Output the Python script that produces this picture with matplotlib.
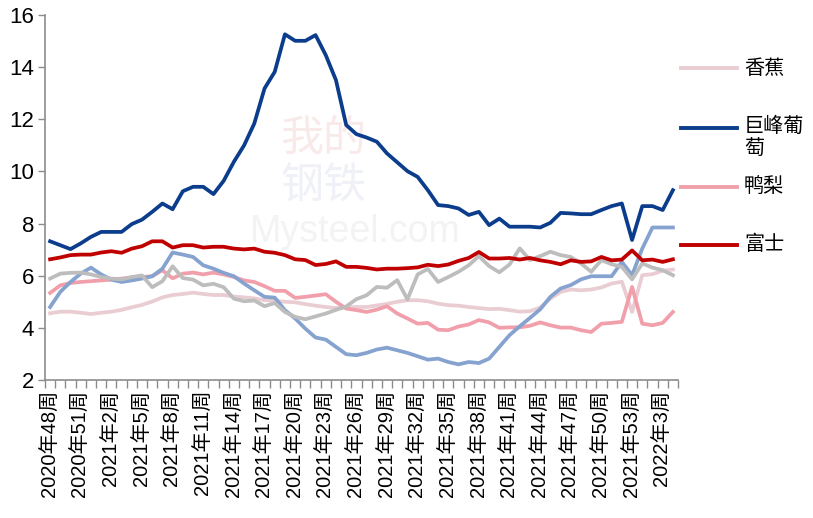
import matplotlib
matplotlib.use("Agg")
import matplotlib.pyplot as plt
from matplotlib.lines import Line2D
import numpy as np

# ---- categories (weeks) ----
weeks = ([f"2020年{w}周" for w in range(48, 53)] +
         [f"2021年{w}周" for w in range(1, 54)] +
         [f"2022年{w}周" for w in range(1, 5)])

banana = [4.56, 4.62, 4.62, 4.58, 4.53, 4.58, 4.62, 4.69, 4.79, 4.88, 5.01, 5.17, 5.26, 5.30, 5.35, 5.30,
          5.26, 5.26, 5.20, 5.17, 5.13, 5.06, 5.04, 5.00, 4.98, 4.91, 4.85, 4.80, 4.76, 4.78, 4.80, 4.80,
          4.86, 4.92, 5.00, 5.06, 5.06, 5.02, 4.93, 4.87, 4.85, 4.80, 4.76, 4.72, 4.73, 4.68, 4.62, 4.64,
          4.78, 5.12, 5.38, 5.47, 5.44, 5.47, 5.55, 5.70, 5.77, 4.61, 6.02, 6.06, 6.19, 6.24]
grape = [7.32, 7.17, 7.02, 7.24, 7.49, 7.68, 7.68, 7.68, 7.98, 8.15, 8.45, 8.77, 8.55, 9.24, 9.41, 9.41,
         9.13, 9.64, 10.37, 11.00, 11.84, 13.18, 13.82, 15.26, 15.01, 15.01, 15.23, 14.46, 13.50, 11.78,
         11.43, 11.30, 11.14, 10.69, 10.35, 10.01, 9.79, 9.28, 8.71, 8.67, 8.58, 8.33, 8.45, 7.94, 8.19,
         7.88, 7.88, 7.88, 7.85, 8.03, 8.41, 8.39, 8.36, 8.36, 8.52, 8.67, 8.77, 7.37, 8.67, 8.67, 8.52, 9.28]
pear = [5.34, 5.63, 5.72, 5.76, 5.79, 5.82, 5.85, 5.89, 5.93, 5.95, 5.98, 6.21, 5.90, 6.08, 6.12, 6.05,
        6.12, 6.05, 5.95, 5.82, 5.76, 5.60, 5.42, 5.42, 5.15, 5.19, 5.24, 5.29, 5.00, 4.74, 4.68, 4.61,
        4.70, 4.83, 4.55, 4.36, 4.16, 4.19, 3.93, 3.91, 4.05, 4.13, 4.30, 4.21, 4.00, 4.02, 4.02, 4.08,
        4.21, 4.10, 4.01, 4.01, 3.91, 3.84, 4.16, 4.19, 4.23, 5.57, 4.16, 4.10, 4.19, 4.61]
fuji = [6.63, 6.70, 6.79, 6.81, 6.81, 6.89, 6.94, 6.88, 7.04, 7.13, 7.32, 7.32, 7.08, 7.17, 7.17, 7.08,
        7.11, 7.11, 7.04, 7.01, 7.04, 6.92, 6.88, 6.79, 6.63, 6.60, 6.41, 6.45, 6.55, 6.34, 6.34, 6.30,
        6.24, 6.27, 6.27, 6.29, 6.32, 6.42, 6.37, 6.43, 6.57, 6.68, 6.91, 6.66, 6.66, 6.68, 6.62, 6.68,
        6.59, 6.53, 6.44, 6.59, 6.53, 6.55, 6.72, 6.59, 6.62, 6.97, 6.59, 6.62, 6.53, 6.63]
lightblue = [4.80, 5.38, 5.76, 6.08, 6.31, 6.05, 5.85, 5.76, 5.82, 5.89, 5.98, 6.27, 6.89, 6.81, 6.72, 6.40,
             6.27, 6.11, 5.98, 5.70, 5.44, 5.19, 5.16, 4.68, 4.36, 3.97, 3.63, 3.55, 3.27, 2.99, 2.95, 3.04,
             3.17, 3.24, 3.14, 3.04, 2.91, 2.78, 2.82, 2.69, 2.60, 2.69, 2.65, 2.82, 3.27, 3.72, 4.06, 4.38,
             4.71, 5.19, 5.51, 5.64, 5.86, 5.98, 5.98, 5.98, 6.53, 6.02, 7.04, 7.85, 7.85, 7.85]
gray = [5.89, 6.08, 6.11, 6.12, 6.05, 5.95, 5.89, 5.86, 5.95, 6.01, 5.56, 5.79, 6.36, 5.91, 5.85, 5.63,
        5.69, 5.56, 5.12, 5.02, 5.05, 4.83, 4.95, 4.61, 4.42, 4.33, 4.44, 4.55, 4.69, 4.82, 5.10, 5.25,
        5.57, 5.54, 5.83, 5.09, 6.05, 6.26, 5.76, 5.95, 6.15, 6.40, 6.75, 6.37, 6.13, 6.43, 7.05, 6.60,
        6.75, 6.92, 6.79, 6.72, 6.47, 6.15, 6.60, 6.44, 6.34, 5.86, 6.47, 6.31, 6.21, 6.02]

legend_names = ["香蕉", "巨峰葡\n萄", "鸭梨", "富士"]
yticks = [2, 4, 6, 8, 10, 12, 14, 16]

W, H = 813, 518
fig = plt.figure(figsize=(W / 100, H / 100), dpi=100)
ax = fig.add_axes([45 / W, 1 - 380 / H, (678 - 45) / W, (380 - 15) / H])

x = np.arange(len(weeks))
lw = 2.7
ax.plot(x, banana, color="#e9cdd3", lw=lw, zorder=2)
ax.plot(x, pear, color="#f1a0ab", lw=lw, zorder=3)
ax.plot(x, lightblue, color="#86a3d0", lw=lw, zorder=4)
ax.plot(x, gray, color="#bdbdbd", lw=lw, zorder=5)
ax.plot(x, fuji, color="#c00000", lw=lw, zorder=6)
ax.plot(x, grape, color="#0b3d8c", lw=lw, zorder=7)

# watermark
ax.text(0.44, 0.66, "我的", transform=ax.transAxes, fontsize=31, color="#f9eaea",
        family=["Noto Sans CJK SC"], ha="center", va="center", zorder=0)
ax.text(0.44, 0.53, "钢铁", transform=ax.transAxes, fontsize=31, color="#eff1f7",
        family=["Noto Sans CJK SC"], ha="center", va="center", zorder=0)
ax.text(0.49, 0.405, "Mysteel.com", transform=ax.transAxes, fontsize=27, color="#f3f3f3",
        family=["Liberation Sans"], ha="center", va="center", zorder=0)

ax.set_xlim(-0.5, len(weeks) - 0.5)
ax.set_ylim(2, 16)
ax.set_yticks(yticks)
ax.set_yticklabels([str(v) for v in yticks], fontsize=16, family=["Liberation Sans"])

lab_idx = np.arange(0, len(weeks), 3)
ax.set_xticks(lab_idx)
ax.set_xticklabels([weeks[i] for i in lab_idx], rotation=90, fontsize=14.5,
                   family=["Liberation Sans", "Noto Sans CJK SC"])
ax.set_xticks(np.arange(len(weeks) + 1) - 0.5, minor=True)
ax.tick_params(axis="x", which="major", length=0, pad=7)
ax.tick_params(axis="x", which="minor", length=6, color="#8c8c8c", width=1)
ax.tick_params(axis="y", length=5, color="#8c8c8c", width=1, pad=3)

for s in ["top", "right"]:
    ax.spines[s].set_visible(False)
for s in ["left", "bottom"]:
    ax.spines[s].set_color("#8c8c8c")
    ax.spines[s].set_linewidth(1.2)

# legend (manual)
leg_colors = ["#e9cdd3", "#0b3d8c", "#f1a0ab", "#c00000"]
leg_y = [68, 128, 187, 245]
for name, c, yy in zip(legend_names, leg_colors, leg_y):
    yf = 1 - yy / H
    fig.add_artist(Line2D([681 / W, 737 / W], [yf, yf], color=c, lw=2.8, transform=fig.transFigure))
    if "\n" in name:
        fig.text(744 / W, 1 - (yy - 12) / H, name, fontsize=14.5, va="top",
                 family=["Noto Sans CJK SC"], linespacing=1.05)
    else:
        fig.text(744 / W, yf, name, fontsize=14.5, va="center", family=["Noto Sans CJK SC"])

fig.savefig("out.png", dpi=100)
